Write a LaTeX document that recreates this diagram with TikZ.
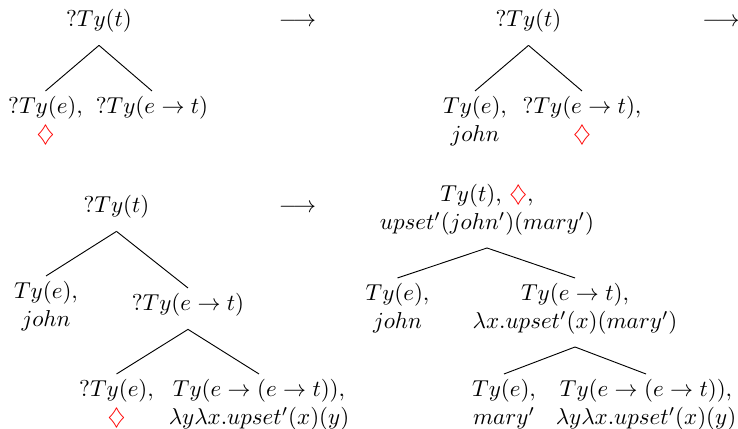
\documentclass[tikz,border=0pt]{standalone}
\newcommand\ptr{\textcolor{red}{$\diamondsuit$}}
\tikzset{
  tnode/.style={align=center, anchor=north, inner sep=0pt, outer sep=0pt},
  stepto/.style={anchor=base, inner sep=0pt, outer sep=0pt},
  branch/.style={draw=black, line width=0.4pt},
  belowgap/.style={yshift=-5.6pt},
  abovegap/.style={yshift=2.4pt}
}
\begin{document}
\begin{tikzpicture}[x=0.4348pt, y=-0.4348pt]
\useasboundingbox (0,0) rectangle (738,429);

% stage 1
\node[tnode] (r1) at (99,9.5) {$?Ty(t)$};
\node[tnode] (a1) at (45.5,96.5) {$?Ty(e),$\\\ptr};
\node[tnode] (b1) at (152,96.5) {$?Ty(e\rightarrow t)$};
\draw[branch] ([belowgap]r1.south) -- ([abovegap]a1.north);
\draw[branch] ([belowgap]r1.south) -- ([abovegap]b1.north);
\node[stepto] (s1) at (297.5,26.75) {$\longrightarrow$};

% stage 2
\node[tnode] (r2) at (528.5,9.5) {$?Ty(t)$};
\node[tnode] (a2) at (475,96.5) {$Ty(e),$\\$john$};
\node[tnode] (b2) at (582,96.5) {$?Ty(e\rightarrow t),$\\\ptr};
\draw[branch] ([belowgap]r2.south) -- ([abovegap]a2.north);
\draw[branch] ([belowgap]r2.south) -- ([abovegap]b2.north);
\node[stepto] (s2) at (721,26.75) {$\longrightarrow$};

% stage 3
\node[tnode] (r3) at (116.5,195.5) {$?Ty(t)$};
\node[tnode] (a3) at (46,281.5) {$Ty(e),$\\$john$};
\node[tnode] (b3) at (188,293.5) {$?Ty(e\rightarrow t)$};
\node[tnode] (c3) at (116.5,379.5) {$?Ty(e),$\\\ptr};
\node[tnode] (d3) at (259,379.5) {$Ty(e\rightarrow(e\rightarrow t)),$\\$\lambda y\lambda x.upset'(x)(y)$};
\draw[branch] ([belowgap]r3.south) -- ([abovegap]a3.north);
\draw[branch] ([belowgap]r3.south) -- ([abovegap]b3.north);
\draw[branch] ([belowgap]b3.south) -- ([abovegap]c3.north);
\draw[branch] ([belowgap]b3.south) -- ([abovegap]d3.north);
\node[stepto] (s3) at (297.5,212.75) {$\longrightarrow$};

% stage 4
\node[tnode] (r4) at (487,184.5) {$Ty(t)$, \ptr,\\$upset'(john')(mary')$};
\node[tnode] (a4) at (397.5,283.5) {$Ty(e),$\\$john$};
\node[tnode] (b4) at (575,283.5) {$Ty(e\rightarrow t),$\\$\lambda x.upset'(x)(mary')$};
\node[tnode] (c4) at (504,379.5) {$Ty(e),$\\$mary'$};
\node[tnode] (d4) at (646,379.5) {$Ty(e\rightarrow(e\rightarrow t)),$\\$\lambda y\lambda x.upset'(x)(y)$};
\draw[branch] ([belowgap]r4.south) -- ([abovegap]a4.north);
\draw[branch] ([belowgap]r4.south) -- ([abovegap]b4.north);
\draw[branch] ([belowgap]b4.south) -- ([abovegap]c4.north);
\draw[branch] ([belowgap]b4.south) -- ([abovegap]d4.north);
\end{tikzpicture}
\end{document}
